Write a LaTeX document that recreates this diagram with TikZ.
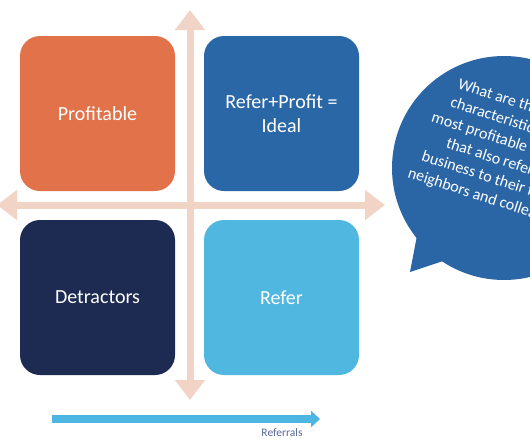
\documentclass[tikz,border=0pt]{standalone}
\usepackage{fontspec}
\setmainfont{Carlito}
\usetikzlibrary{arrows.meta}
\definecolor{axiscol}{RGB}{242,212,199}
\definecolor{orangeq}{RGB}{226,114,74}
\definecolor{blueq}{RGB}{41,103,166}
\definecolor{navyq}{RGB}{29,42,81}
\definecolor{lightq}{RGB}{80,183,224}
\definecolor{refarrow}{RGB}{77,181,225}
\definecolor{reftext}{RGB}{90,104,152}
\definecolor{bubblecol}{RGB}{42,102,166}
\begin{document}
\begin{tikzpicture}[x=1pt,y=-1pt,
  quad/.style={rectangle, rounded corners=20pt, minimum width=155pt, minimum height=155pt,
    inner sep=0pt, text=white, align=center, font=\fontsize{20}{24}\selectfont},
  axis/.style={line width=7pt, draw=axiscol,
    {Triangle[width=29pt,length=20pt]}-{Triangle[width=29pt,length=20pt]}},
  bubbleline/.style={anchor=base west, rotate=-18, inner sep=0pt, text=white,
    font=\fontsize{16}{20}\selectfont}]
\useasboundingbox (0,0) rectangle (530,442);
\clip (0,0) rectangle (530,442);
\fill[white] (0,0) rectangle (530,442);

% axes
\coordinate (vt) at (190,10);
\coordinate (vb) at (190,400);
\coordinate (hl) at (-3,205);
\coordinate (hr) at (385,205);
\draw[axis] (vb) -- (vt);
\draw[axis] (hl) -- (hr);

% quadrants
\node[quad, fill=orangeq] (profit) at (97.5,113.5) {Profitable};
\node[quad, fill=blueq] (ideal) at (281.5,113.5) {Refer+Profit =\\Ideal};
\node[quad, fill=navyq] (detract) at (97.5,297.5) {Detractors};
\node[quad, fill=lightq] (refer) at (281.5,297.5) {Refer};

% referrals arrow
\coordinate (ra) at (52,419);
\coordinate (rb) at (320,419);
\draw[line width=8pt, draw=refarrow, -{Triangle[width=16pt,length=9pt]}] (ra) -- (rb);
\node[text=reftext, font=\fontsize{11.5}{13}\selectfont, inner sep=0pt] (reflabel) at (282,433) {Referrals};

% speech bubble
\fill[bubblecol] (504,168) circle[radius=112];
\fill[bubblecol] (420,220) -- (410,272) -- (470,252) -- cycle;
\node[bubbleline] (q1) at (457,88) {What are the};
\node[bubbleline] (q2) at (449.4,106.6) {characteristics of};
\node[bubbleline] (q3) at (430.5,121.5) {most profitable clients};
\node[bubbleline] (q4) at (445.1,147.3) {that also refer};
\node[bubbleline] (q5) at (420.8,160.4) {business to their friends,};
\node[bubbleline] (q6) at (407,177) {neighbors and colleagues?};
\end{tikzpicture}
\end{document}
